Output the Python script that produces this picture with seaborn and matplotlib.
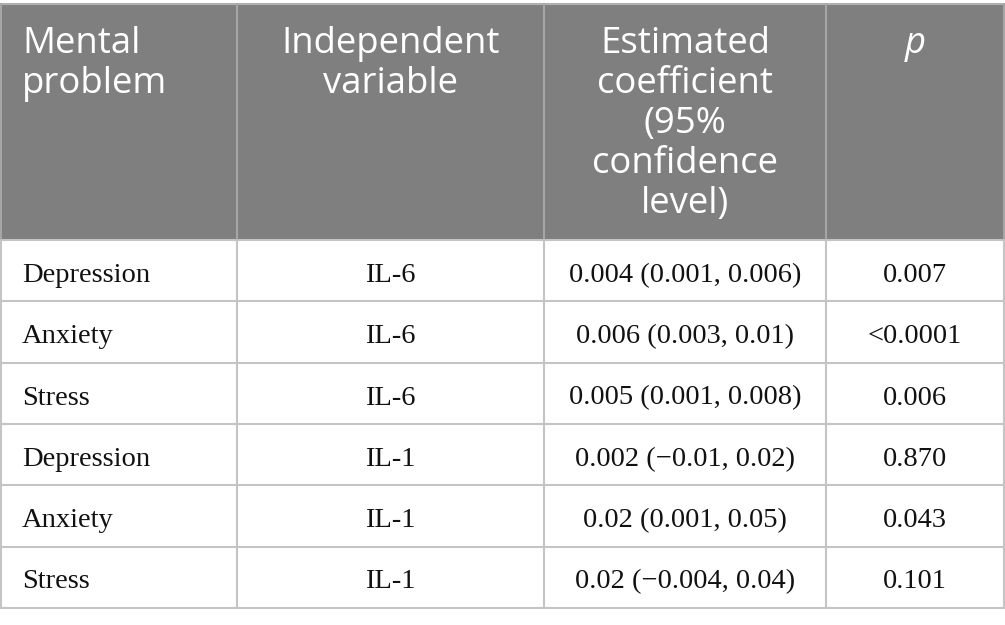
import seaborn as sns
import matplotlib.pyplot as plt

# table content
headers = ["Mental\nproblem", "Independent\nvariable",
           "Estimated\ncoefficient\n(95%\nconfidence\nlevel)", "p"]
problems = ["Depression", "Anxiety", "Stress", "Depression", "Anxiety", "Stress"]
variables = ["IL-6", "IL-6", "IL-6", "IL-1", "IL-1", "IL-1"]
coefficients = ["0.004 (0.001, 0.006)", "0.006 (0.003, 0.01)", "0.005 (0.001, 0.008)",
                "0.002 (\u22120.01, 0.02)", "0.02 (0.001, 0.05)", "0.02 (\u22120.004, 0.04)"]
p_values = ["0.007", "<0.0001", "0.006", "0.870", "0.043", "0.101"]

# layout in pixels
col_edges = [1, 237, 544, 826, 1004]
top, head_bottom, row_h = 4, 240, 61.3
header_color = "#7f7f7f"
grid_color = "#c4c4c4"

sns.set_theme(style="white")
fig = plt.figure(figsize=(10.05, 6.25), dpi=100)
ax = fig.add_axes([0, 0, 1, 1])
ax.set_xlim(0, 1005)
ax.set_ylim(625, 0)
ax.axis("off")

# header background
ax.fill_between([col_edges[0], col_edges[-1]], top, head_bottom, color=header_color, lw=0)

rows = list(zip(problems, variables, coefficients, p_values))
n = len(rows)
bottom = head_bottom + n * row_h

# grid lines
ax.plot([col_edges[0], col_edges[-1]], [top, top], color="#b0b0b0", lw=1.5)
for i in range(n + 1):
    y = head_bottom + i * row_h
    ax.plot([col_edges[0], col_edges[-1]], [y, y], color=grid_color, lw=1.5)
for j, x in enumerate(col_edges):
    ax.plot([x, x], [top, head_bottom], color="#a6a6a6", lw=1.5)
    ax.plot([x, x], [head_bottom, bottom], color=grid_color, lw=1.5)


def cell_x(j):
    if j == 0:
        return col_edges[0] + 21, "left"
    return (col_edges[j] + col_edges[j + 1]) / 2, "center"


# header text
for j, h in enumerate(headers):
    x, ha = cell_x(j)
    for k, line in enumerate(h.split("\n")):
        ax.text(x, 53 + k * 40, line, ha=ha, va="baseline", color="white",
                fontsize=26.3, family="Open Sans",
                style="italic" if h == "p" else "normal")

# body text
for i, row in enumerate(rows):
    y = head_bottom + i * row_h + 42
    for j, val in enumerate(row):
        x, ha = cell_x(j)
        ax.text(x, y, val, ha=ha, va="baseline", color="#111111",
                fontsize=20.5, family="Liberation Serif")

fig.savefig("out.png", dpi=100)
